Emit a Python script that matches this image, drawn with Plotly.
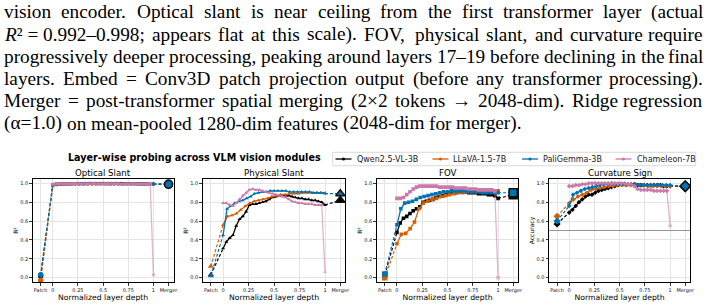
import plotly.graph_objects as go

W, H = 707, 306

# ---------------- data ----------------
MODELS = ["Qwen2.5-VL-3B", "LLaVA-1.5-7B", "PaliGemma-3B", "Chameleon-7B"]
COLORS = ["#000000", "#D55E00", "#0072B2", "#CC79A7"]
FADE_LAST = [False, False, False, True]
TASKS = ["Optical Slant", "Physical Slant", "FOV", "Curvature Sign"]
Y_TITLES = ["R²", "R²", "R²", "Accuracy"]
SYMBOLS = ["circle", "triangle-up", "square", "diamond"]
PATCH_X = -0.12
MERGER_X = 1.15
X_TICK_VALS = [PATCH_X, 0, 0.25, 0.5, 0.75, 1, MERGER_X]
X_TICK_TEXT = ["Patch", "0", "0.25", "0.5", "0.75", "1", "Merger"]
Y_TICK_VALS = [0.0, 0.2, 0.4, 0.6, 0.8, 1.0]
Y_TICK_TEXT = ["0.0", "0.2", "0.4", "0.6", "0.8", "1.0"]
CHANCE_LEVEL = 0.5

qwen_optical = [0.984, 0.992, 0.993, 0.994, 0.995, 0.995, 0.996, 0.996, 0.997, 0.997, 0.997, 0.998, 0.998, 0.998, 0.998, 0.998,
                0.998, 0.998, 0.997, 0.997, 0.997, 0.997, 0.996, 0.996, 0.996, 0.995, 0.995, 0.994, 0.994, 0.993, 0.993, 0.992]
qwen_physical = [0.31, 0.38, 0.42, 0.45, 0.55, 0.62, 0.65, 0.70, 0.77, 0.78, 0.78, 0.79, 0.80, 0.81, 0.83, 0.85,
                 0.86, 0.87, 0.87, 0.87, 0.87, 0.86, 0.85, 0.84, 0.84, 0.83, 0.83, 0.82, 0.82, 0.81, 0.80, 0.77]
qwen_fov = [0.48, 0.58, 0.63, 0.65, 0.68, 0.71, 0.73, 0.75, 0.80, 0.81, 0.82, 0.83, 0.85, 0.86, 0.87, 0.88,
            0.89, 0.90, 0.90, 0.91, 0.91, 0.91, 0.90, 0.90, 0.90, 0.89, 0.89, 0.89, 0.88, 0.88, 0.87, 0.84]
qwen_curv = [0.69, 0.72, 0.76, 0.80, 0.83, 0.86, 0.88, 0.88, 0.90, 0.92, 0.93, 0.94, 0.95, 0.96, 0.97, 0.98,
             0.99, 0.99, 0.99, 0.99, 0.99, 0.98, 0.98, 0.98, 0.98, 0.98, 0.98, 0.98, 0.98, 0.97, 0.97, 0.97]

llava_optical = [0.972, 0.986, 0.989, 0.990, 0.991, 0.992, 0.992, 0.993, 0.993, 0.993, 0.994, 0.994,
                 0.994, 0.994, 0.994, 0.993, 0.993, 0.993, 0.993, 0.992, 0.992, 0.992, 0.991, 0.991]
llava_physical = [0.56, 0.65, 0.66, 0.68, 0.72, 0.76, 0.79, 0.81, 0.82, 0.83, 0.84, 0.86,
                  0.87, 0.88, 0.88, 0.89, 0.89, 0.89, 0.90, 0.90, 0.90, 0.90, 0.90, 0.90]
llava_fov = [0.36, 0.46, 0.47, 0.52, 0.59, 0.73, 0.79, 0.81, 0.83, 0.84, 0.86, 0.87,
             0.88, 0.89, 0.90, 0.90, 0.91, 0.91, 0.91, 0.91, 0.91, 0.92, 0.92, 0.92]
llava_curv = [0.79, 0.83, 0.86, 0.88, 0.90, 0.93, 0.94, 0.95, 0.96, 0.97, 0.97, 0.98,
              0.98, 0.98, 0.98, 0.98, 0.98, 0.98, 0.97, 0.97, 0.97, 0.97, 0.97, 0.97]

pali_optical = [0.982, 0.990, 0.992, 0.993, 0.994, 0.995, 0.995, 0.996, 0.996, 0.996, 0.997, 0.997, 0.997, 0.997,
                0.997, 0.997, 0.996, 0.996, 0.996, 0.995, 0.995, 0.995, 0.994, 0.994, 0.993, 0.993, 0.992]
pali_physical = [0.45, 0.73, 0.76, 0.79, 0.81, 0.82, 0.84, 0.86, 0.89, 0.90, 0.91, 0.91, 0.92, 0.92,
                 0.92, 0.92, 0.92, 0.91, 0.91, 0.91, 0.91, 0.91, 0.91, 0.90, 0.90, 0.90, 0.89]
pali_fov = [0.56, 0.73, 0.79, 0.80, 0.81, 0.83, 0.85, 0.86, 0.87, 0.88, 0.89, 0.90, 0.91, 0.91,
            0.92, 0.92, 0.92, 0.92, 0.91, 0.91, 0.91, 0.91, 0.90, 0.90, 0.90, 0.90, 0.90]
pali_curv = [0.76, 0.88, 0.90, 0.92, 0.94, 0.95, 0.96, 0.97, 0.98, 0.99, 0.99, 1.00, 0.99, 0.99,
             0.99, 0.99, 0.99, 0.99, 0.98, 0.98, 0.98, 0.98, 0.98, 0.98, 0.98, 0.98, 0.98]

cham_optical = [0.990, 0.993, 0.994, 0.995, 0.995, 0.996, 0.996, 0.996, 0.996, 0.996, 0.996, 0.996, 0.995, 0.995, 0.995, 0.995,
                0.995, 0.994, 0.994, 0.994, 0.994, 0.993, 0.993, 0.993, 0.993, 0.992, 0.992, 0.992, 0.992, 0.991, 0.991, 0.03]
cham_physical = [0.79, 0.79, 0.77, 0.76, 0.79, 0.83, 0.87, 0.90, 0.93, 0.94, 0.93, 0.93, 0.92, 0.91, 0.90, 0.89,
                 0.88, 0.87, 0.86, 0.85, 0.83, 0.81, 0.80, 0.79, 0.79, 0.78, 0.78, 0.78, 0.77, 0.77, 0.77, 0.06]
cham_fov = [0.84, 0.84, 0.85, 0.88, 0.91, 0.94, 0.96, 0.97, 0.97, 0.97, 0.97, 0.97, 0.97, 0.96, 0.96, 0.96,
            0.96, 0.96, 0.95, 0.95, 0.95, 0.95, 0.94, 0.94, 0.94, 0.93, 0.93, 0.93, 0.93, 0.93, 0.92, 0.00]
cham_curv = [0.97, 0.97, 0.98, 0.98, 0.99, 0.99, 1.00, 1.00, 1.00, 1.00, 1.00, 1.00, 1.00, 1.00, 1.00, 1.00,
             1.00, 1.00, 0.99, 0.99, 0.97, 0.94, 0.93, 0.93, 0.93, 0.93, 0.92, 0.92, 0.92, 0.92, 0.92, 0.55]

LAYER_VALUES = {
    "Optical Slant": [qwen_optical, llava_optical, pali_optical, cham_optical],
    "Physical Slant": [qwen_physical, llava_physical, pali_physical, cham_physical],
    "FOV": [qwen_fov, llava_fov, pali_fov, cham_fov],
    "Curvature Sign": [qwen_curv, llava_curv, pali_curv, cham_curv],
}
PATCH_VALUES = {
    "Optical Slant": [0.02, -0.03, 0.03, None],
    "Physical Slant": [0.03, 0.12, 0.02, None],
    "FOV": [0.03, 0.00, 0.04, None],
    "Curvature Sign": [0.57, 0.65, 0.60, None],
}
MERGER_VALUES = {
    "Optical Slant": [0.99, None, 0.99, None],
    "Physical Slant": [0.82, None, 0.89, None],
    "FOV": [0.88, None, 0.90, None],
    "Curvature Sign": [0.97, None, 0.97, None],
}

SUPTITLE = "Layer-wise probing across VLM vision modules"
X_TITLE = "Normalized layer depth"

CAPTION_LINES = [
    "vision encoder. Optical slant is near ceiling from the first transformer layer (actual",
    "R²\u00a0=\u00a00.992–0.998; appears flat at this scale). FOV, physical slant, and curvature require",
    "progressively deeper processing, peaking around layers 17–19 before declining in the final",
    "layers. Embed = Conv3D patch projection output (before any transformer processing).",
    "Merger = post-transformer spatial merging (2×2 tokens → 2048-dim). Ridge regression",
    "(α=1.0) on mean-pooled 1280-dim features (2048-dim for merger).",
]
CAPTION_JUSTIFY = [True, True, True, True, True, False]

# ---------------- layout helpers ----------------
def px(x):
    return x / W


def py(y):
    return 1 - y / H


LEFTS = [32.6, 202.7, 376.7, 549.0]
RIGHTS = [173.6, 345.4, 518.3, 690.3]
TOP, BOTTOM = 178.6, 282.4
FONT = "DejaVu Sans"

fig = go.Figure()

for p, task in enumerate(TASKS):
    sfx = "" if p == 0 else str(p + 1)
    xa, ya = "x" + sfx, "y" + sfx
    sym = SYMBOLS[p]
    for m, model in enumerate(MODELS):
        vals = LAYER_VALUES[task][m]
        n = len(vals)
        xs = [i / (n - 1) for i in range(n)]
        col = COLORS[m]
        pv = PATCH_VALUES[task][m]
        mv = MERGER_VALUES[task][m]
        common = dict(xaxis=xa, yaxis=ya, showlegend=False, hoverinfo="skip")
        if pv is not None:
            fig.add_trace(go.Scatter(x=[PATCH_X, xs[0]], y=[pv, vals[0]], mode="lines",
                                     line=dict(color=col, width=1.2, dash="3px,2px"), **common))
        if FADE_LAST[m]:
            mx, my = xs[:-1], vals[:-1]
        else:
            mx, my = xs, vals
        fig.add_trace(go.Scatter(x=mx, y=my, mode="lines+markers",
                                 line=dict(color=col, width=1.3),
                                 marker=dict(symbol=sym, size=3.6, color=col, line=dict(width=0)),
                                 **common))
        if FADE_LAST[m]:
            fig.add_trace(go.Scatter(x=xs[-2:], y=vals[-2:], mode="lines+markers", opacity=0.55,
                                     line=dict(color=col, width=1.3),
                                     marker=dict(symbol=sym, size=3.6, color=col, line=dict(width=0)),
                                     **common))
        if pv is not None:
            fig.add_trace(go.Scatter(x=[PATCH_X], y=[pv], mode="markers",
                                     marker=dict(symbol=sym, size=5.5, color=col, line=dict(width=0)),
                                     **common))
        if mv is not None:
            fig.add_trace(go.Scatter(x=[xs[-1], MERGER_X], y=[vals[-1], mv], mode="lines",
                                     line=dict(color=col, width=1.2, dash="3px,2px"), **common))
            fig.add_trace(go.Scatter(x=[MERGER_X], y=[mv], mode="markers",
                                     marker=dict(symbol=sym, size=8, color=col,
                                                 line=dict(width=1.5, color="#111111")),
                                     **common))

    axis_common = dict(showline=True, mirror=True, linecolor="#000000", linewidth=1,
                       showgrid=True, gridcolor="#e4e4e4", gridwidth=1, zeroline=False,
                       ticks="outside", ticklen=2.5, tickwidth=0.8, tickcolor="#000000",
                       tickfont=dict(family=FONT, size=5, color="#111111"), fixedrange=True,
                       automargin=False)
    fig.update_layout(**{
        ("xaxis" + sfx): dict(domain=[px(LEFTS[p]), px(RIGHTS[p])], range=[-0.2, 1.2], anchor=ya,
                              tickmode="array", tickvals=X_TICK_VALS, ticktext=X_TICK_TEXT,
                              title=dict(text=X_TITLE, standoff=1.5,
                                         font=dict(family=FONT, size=7.7, color="#000")),
                              **axis_common),
        ("yaxis" + sfx): dict(domain=[py(BOTTOM), py(TOP)], range=[-0.05, 1.05], anchor=xa,
                              tickmode="array", tickvals=Y_TICK_VALS, ticktext=Y_TICK_TEXT,
                              title=dict(text=Y_TITLES[p], standoff=1,
                                         font=dict(family=FONT, size=6, color="#000")),
                              **axis_common),
    })
    cx = (LEFTS[p] + RIGHTS[p]) / 2
    fig.add_annotation(x=px(cx), y=py(172.8), xref="paper", yref="paper", text=task, showarrow=False,
                       xanchor="center", yanchor="middle", font=dict(family=FONT, size=8.6, color="#000"))

# chance line on the curvature panel
fig.add_shape(type="line", xref="x4 domain", yref="y4", x0=0, x1=1, y0=CHANCE_LEVEL, y1=CHANCE_LEVEL,
              line=dict(color="#7a7a7a", width=0.8))

# suptitle
fig.add_annotation(x=px(195), y=py(157.6), xref="paper", yref="paper", text="<b>" + SUPTITLE + "</b>",
                   showarrow=False, xanchor="center", yanchor="middle",
                   font=dict(family=FONT, size=9.6, color="#000"))

# legend (framed row of line samples + labels)
LEG_X0, LEG_X1, LEG_Y0, LEG_Y1 = 332.7, 695.7, 152.3, 165.7
LEG_TEXT_X = [355.5, 452.5, 542.0, 635.5]
fig.add_shape(type="rect", xref="paper", yref="paper", x0=px(LEG_X0), x1=px(LEG_X1), y0=py(LEG_Y1), y1=py(LEG_Y0),
              line=dict(color="#d0d0d0", width=0.8), fillcolor="white", layer="above")
leg_y = (LEG_Y0 + LEG_Y1) / 2
for m, model in enumerate(MODELS):
    tx = LEG_TEXT_X[m]
    fig.add_shape(type="line", xref="paper", yref="paper", x0=px(tx - 20), x1=px(tx - 4), y0=py(leg_y), y1=py(leg_y),
                  line=dict(color=COLORS[m], width=1.3), layer="above")
    fig.add_shape(type="circle", xref="paper", yref="paper", xsizemode="pixel", ysizemode="pixel",
                  xanchor=px(tx - 12), yanchor=py(leg_y), x0=-1.6, x1=1.6, y0=-1.6, y1=1.6,
                  line=dict(width=0), fillcolor=COLORS[m], layer="above")
    fig.add_annotation(x=px(tx), y=py(leg_y), xref="paper", yref="paper", text=model, showarrow=False,
                       xanchor="left", yanchor="middle", borderpad=0,
                       font=dict(family=FONT, size=8, color="#222"))

# caption text above the chart (justified word by word)
TIMES_W = {' ': 250, '\u00a0': 250, '(': 333, ')': 333, ',': 250, '-': 333, '.': 250, ';': 278, ':': 278,
           '=': 564, '–': 500, '×': 564, '→': 1000, 'α': 540, '²': 300}
for ch in "0123456789":
    TIMES_W[ch] = 500
TIMES_W.update(dict(zip("ABCDEFGHIJKLMNOPQRSTUVWXYZ",
                        [722, 667, 667, 722, 611, 556, 722, 722, 333, 389, 722, 611, 889, 722, 722, 556, 722,
                         667, 556, 611, 722, 722, 944, 722, 722, 611])))
TIMES_W.update(dict(zip("abcdefghijklmnopqrstuvwxyz",
                        [444, 500, 444, 500, 444, 333, 500, 500, 278, 278, 500, 278, 778, 500, 500, 500, 500,
                         333, 389, 278, 500, 500, 722, 500, 500, 444])))
CAP_FS = 19.3
CAP_LEFT, CAP_RIGHT = 3.0, 703.5
CAP_Y0, CAP_DY = 11.8, 22.3


def tw(s):
    return sum(TIMES_W.get(c, 500) for c in s) * CAP_FS / 1000.0


for li, line in enumerate(CAPTION_LINES):
    words = line.split(" ")
    widths = [tw(w) for w in words]
    if CAPTION_JUSTIFY[li]:
        gap = (CAP_RIGHT - CAP_LEFT - sum(widths)) / (len(words) - 1)
    else:
        gap = TIMES_W[' '] * CAP_FS / 1000.0
    yc = CAP_Y0 + li * CAP_DY
    x = CAP_LEFT
    for wi, w in enumerate(words):
        html = w.replace("R²", "<i>R</i>²")
        last = CAPTION_JUSTIFY[li] and wi == len(words) - 1
        fig.add_annotation(x=px(CAP_RIGHT if last else x), y=py(yc), xref="paper", yref="paper", text=html,
                           showarrow=False, xanchor="right" if last else "left", yanchor="middle", borderpad=0,
                           font=dict(family="Liberation Serif", size=CAP_FS, color="#000"))
        x += widths[wi] + gap

fig.update_layout(width=W, height=H, autosize=False, margin=dict(l=0, r=0, t=0, b=0, pad=0),
                  paper_bgcolor="white", plot_bgcolor="white", showlegend=False,
                  font=dict(family=FONT, color="#000"))

fig.write_html("out.html", config={"displayModeBar": False, "staticPlot": True})
